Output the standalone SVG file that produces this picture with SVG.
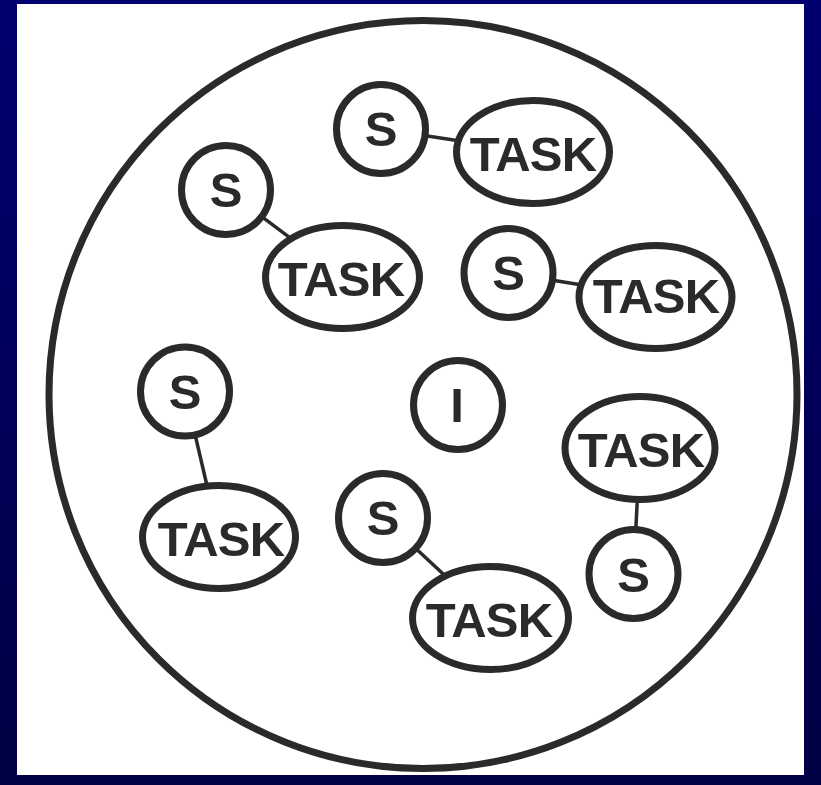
<svg xmlns="http://www.w3.org/2000/svg" width="821" height="785" viewBox="0 0 821 785">
  <defs>
    <linearGradient id="bg" x1="0" y1="0" x2="0" y2="1">
      <stop offset="0" stop-color="#000070"/>
      <stop offset="1" stop-color="#000044"/>
    </linearGradient>
  </defs>
  <style>
    .node { fill: #ffffff; stroke: #2b2a2a; stroke-width: 7; }
    .edge { stroke: #2b2a2a; stroke-width: 3.5; fill: none; }
    .lbl { font-family: "Liberation Sans", Arial, sans-serif; font-weight: bold; font-size: 49px; fill: #2b2a2a; text-anchor: middle; }
    .task { letter-spacing: -0.8px; }
  </style>
  <rect x="0" y="0" width="821" height="785" fill="url(#bg)"/>
  <rect x="17" y="4" width="787" height="771" fill="#ffffff"/>
  <g id="boundary">
    <circle cx="423" cy="394.5" r="374" fill="none" stroke="#2b2a2a" stroke-width="7"/>
  </g>
  <g id="connectors">
    <line class="edge" x1="381" y1="129" x2="533" y2="152"/>
    <line class="edge" x1="226" y1="190" x2="342.5" y2="277"/>
    <line class="edge" x1="508.5" y1="273" x2="655.5" y2="297"/>
    <line class="edge" x1="185" y1="391.5" x2="219" y2="537"/>
    <line class="edge" x1="383" y1="518" x2="490.5" y2="618"/>
    <line class="edge" x1="640" y1="448" x2="633.5" y2="574"/>
  </g>
  <g id="s1">
    <circle class="node" cx="381" cy="129" r="44.5"/>
    <text class="lbl" x="381" y="146">S</text>
  </g>
  <g id="task1">
    <ellipse class="node" cx="533" cy="152" rx="76.5" ry="51.5"/>
    <text class="lbl task" x="533" y="171">TASK</text>
  </g>
  <g id="s2">
    <circle class="node" cx="226" cy="190" r="44.5"/>
    <text class="lbl" x="226" y="207">S</text>
  </g>
  <g id="task2">
    <ellipse class="node" cx="342.5" cy="277" rx="77" ry="51.5"/>
    <text class="lbl task" x="341" y="296">TASK</text>
  </g>
  <g id="s3">
    <circle class="node" cx="508.5" cy="273" r="44.5"/>
    <text class="lbl" x="508.5" y="290">S</text>
  </g>
  <g id="task3">
    <ellipse class="node" cx="655.5" cy="297" rx="76.5" ry="51.5"/>
    <text class="lbl task" x="656" y="313">TASK</text>
  </g>
  <g id="s4">
    <circle class="node" cx="185" cy="391.5" r="44.5"/>
    <text class="lbl" x="185" y="408.5">S</text>
  </g>
  <g id="task4">
    <ellipse class="node" cx="219" cy="537" rx="76.5" ry="51.5"/>
    <text class="lbl task" x="221" y="556">TASK</text>
  </g>
  <g id="i">
    <circle class="node" cx="458" cy="405" r="44.5"/>
    <text class="lbl" x="457" y="422">I</text>
  </g>
  <g id="s5">
    <circle class="node" cx="383" cy="518" r="44.5"/>
    <text class="lbl" x="383" y="535">S</text>
  </g>
  <g id="task5">
    <ellipse class="node" cx="490.5" cy="618" rx="78" ry="51.5"/>
    <text class="lbl task" x="489" y="637">TASK</text>
  </g>
  <g id="task6">
    <ellipse class="node" cx="640" cy="448" rx="75" ry="51.5"/>
    <text class="lbl task" x="641" y="467">TASK</text>
  </g>
  <g id="s6">
    <circle class="node" cx="633.5" cy="574" r="44.5"/>
    <text class="lbl" x="633.5" y="592">S</text>
  </g>
</svg>
